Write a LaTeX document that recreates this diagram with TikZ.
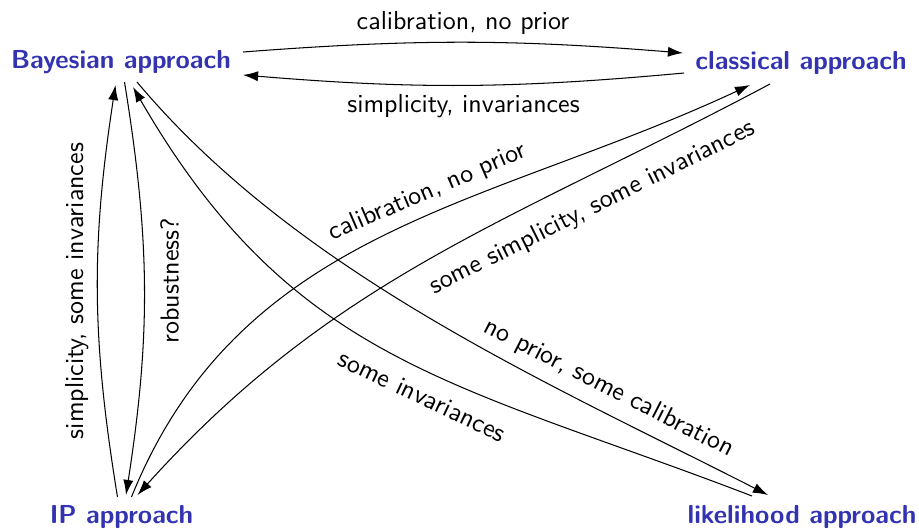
\documentclass[tikz,border=0pt]{standalone}
\usetikzlibrary{arrows.meta,calc}
\definecolor{structblue}{rgb}{0.2,0.2,0.7}
\begin{document}
\begin{tikzpicture}[x=0.384615pt,y=0.384615pt,
  font=\sffamily\fontsize{10}{12}\selectfont,
  approach/.style={font=\sffamily\bfseries\fontsize{10}{12}\selectfont, text=structblue, inner sep=0pt},
  link/.style={-{Latex[length=5.8pt,width=3.9pt]}, line width=0.4pt}]
\useasboundingbox (0,0) rectangle (919,528);

% the four approaches
\node[approach] (B)  at (121,465.5) {Bayesian approach};
\node[approach] (C)  at (801,465.5) {classical approach};
\node[approach] (IP) at (121.5,11.5) {IP approach};
\node[approach] (L)  at (802,11.5)  {likelihood approach};

% Bayesian <-> classical
\draw[link] ($(B.center)+(122,10.5)$) to[bend left=4.5]
  node[above,inner sep=2.8pt] {calibration, no prior} ($(C.center)+(-118,9.5)$);
\draw[link] ($(C.center)+(-117,-10.5)$) to[bend left=5]
  node[below] {simplicity, invariances} ($(B.center)+(122,-12.5)$);

% Bayesian <-> IP (labels set upright along the vertical)
\draw[link] ($(IP.center)+(-4,19.5)$) to[bend left=9]
  node[midway,rotate=90,anchor=south] {simplicity, some invariances} ($(B.center)+(-5.5,-22.5)$);
\draw[link] ($(B.center)+(3.5,-19.5)$) to[bend left=9]
  node[pos=0.48,rotate=90,anchor=north,inner sep=6pt] {robustness?} ($(IP.center)+(4.5,21.5)$);

% IP <-> classical
\draw[link] ($(IP.center)+(10,19.5)$) to[out=68,in=205]
  node[pos=0.58,sloped,above] {calibration, no prior} ($(C.center)+(-51,-22.5)$);
\draw[link] ($(C.center)+(-31,-21.5)$) to[out=208,in=48]
  node[pos=0.265,sloped,below,inner sep=7pt] {some simplicity, some invariances} ($(IP.center)+(16,21.5)$);

% Bayesian <-> likelihood
\draw[link] ($(B.center)+(16,-19.5)$) to[out=-50,in=153,looseness=0.85]
  node[pos=0.75,sloped,above,inner sep=4.5pt] {no prior, some calibration} ($(L.center)+(-34,21.5)$);
\draw[link] ($(L.center)+(-50,20.5)$) to[out=159,in=300,looseness=1.1]
  node[pos=0.43,sloped,below,inner sep=6pt] {some invariances} ($(B.center)+(12,-24.5)$);
\end{tikzpicture}
\end{document}
